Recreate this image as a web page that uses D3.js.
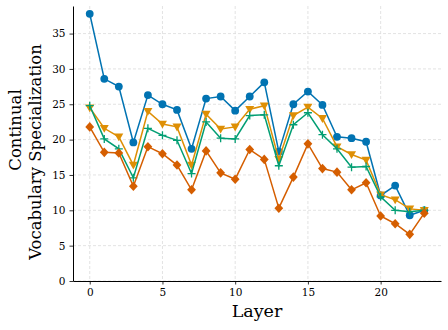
<!DOCTYPE html>
<html>
<head>
<meta charset="utf-8">
<script src="https://cdn.jsdelivr.net/npm/d3@7"></script>
<style>
  body { margin: 0; background: #fff; }
  text { font-family: "DejaVu Serif", serif; }
</style>
</head>
<body>
<div id="chart"></div>
<script>
// values, one per layer 0..23
var layers = d3.range(24)
var blue   = [37.8, 28.6, 27.5, 19.6, 26.3, 25.0, 24.2, 18.7, 25.8, 26.1, 24.1, 26.1, 28.1, 18.3, 25.0, 26.8, 24.9, 20.4, 20.2, 19.7, 12.1, 13.5, 9.3, 10.0]
var gold   = [24.5, 21.6, 20.4, 16.4, 24.0, 22.2, 21.8, 16.4, 23.6, 21.5, 21.8, 24.3, 24.8, 17.2, 23.4, 24.6, 23.0, 19.0, 17.9, 17.1, 12.2, 11.5, 10.2, 10.0]
var green  = [24.8, 20.1, 18.7, 14.6, 21.6, 20.6, 19.9, 15.2, 22.5, 20.2, 20.1, 23.4, 23.5, 16.3, 22.1, 23.8, 20.7, 18.7, 16.1, 16.2, 11.9, 10.0, 9.8, 10.0]
var rust   = [21.8, 18.2, 18.1, 13.4, 19.0, 18.0, 16.4, 12.9, 18.4, 15.3, 14.4, 18.6, 17.2, 10.3, 14.7, 19.4, 15.9, 15.4, 12.9, 13.9, 9.2, 8.1, 6.6, 9.6]
var xTicks = [0, 5, 10, 15, 20]
var yTicks = [0, 5, 10, 15, 20, 25, 30, 35]

var series = [
  {vals: blue,  color: "#0173b2", marker: "circle"},
  {vals: gold,  color: "#de8f05", marker: "tri"},
  {vals: green, color: "#029e73", marker: "plus"},
  {vals: rust,  color: "#d55e00", marker: "diamond"}
]

var W = 448, H = 330
var margin = {top: 6, right: 7, bottom: 49, left: 73}
var width = W - margin.left - margin.right
var height = H - margin.top - margin.bottom

var svg = d3.select("#chart").append("svg")
            .attr("width", W).attr("height", H)
var g = svg.append("g").attr("transform", "translate(" + margin.left + "," + margin.top + ")")

var x = d3.scaleLinear().domain([-1.15, 24.15]).range([0, width])
var y = d3.scaleLinear().domain([0, 38.9]).range([height, 0])

// grid
g.append("g").selectAll("line").data(xTicks).enter().append("line")
 .attr("x1", d => x(d)).attr("x2", d => x(d)).attr("y1", 0).attr("y2", height)
 .attr("stroke", "#dcdcdc").attr("stroke-width", 0.8).attr("stroke-dasharray", "3,2")
g.append("g").selectAll("line").data(yTicks).enter().append("line")
 .attr("x1", 0).attr("x2", width).attr("y1", d => y(d)).attr("y2", d => y(d))
 .attr("stroke", "#dcdcdc").attr("stroke-width", 0.8).attr("stroke-dasharray", "3,2")

// axes
var xa = g.append("g").attr("transform", "translate(0," + height + ")")
          .call(d3.axisBottom(x).tickValues(xTicks).tickSize(3.5).tickPadding(4).tickSizeOuter(0))
var ya = g.append("g")
          .call(d3.axisLeft(y).tickValues(yTicks).tickSize(3.5).tickPadding(4).tickSizeOuter(0))
;[xa, ya].forEach(function(a) {
  a.select(".domain").attr("stroke", "#000").attr("stroke-width", 1)
  a.selectAll(".tick line").attr("stroke", "#000").attr("stroke-width", 0.8)
  a.selectAll("text").attr("font-size", 10.5).attr("fill", "#000")
   .style("font-family", "DejaVu Serif, serif")
})

var line = d3.line().x((d, i) => x(layers[i])).y(d => y(d))

series.forEach(function(s) {
  var sg = g.append("g")
  sg.append("path").datum(s.vals).attr("d", line)
    .attr("fill", "none").attr("stroke", s.color).attr("stroke-width", 1.5)
  var pts = sg.selectAll(".pt").data(s.vals).enter()
  if (s.marker === "circle") {
    pts.append("circle").attr("cx", (d, i) => x(layers[i])).attr("cy", d => y(d))
       .attr("r", 3.9).attr("fill", s.color)
  } else if (s.marker === "tri") {
    pts.append("path").attr("transform", (d, i) => "translate(" + x(layers[i]) + "," + y(d) + ")")
       .attr("d", "M-4.5,-3.3L4.5,-3.3L0,4.5Z").attr("fill", s.color)
  } else if (s.marker === "plus") {
    pts.append("path").attr("transform", (d, i) => "translate(" + x(layers[i]) + "," + y(d) + ")")
       .attr("d", "M-4,0L4,0M0,-4L0,4").attr("stroke", s.color).attr("stroke-width", 1.3)
  } else {
    pts.append("path").attr("transform", (d, i) => "translate(" + x(layers[i]) + "," + y(d) + ")")
       .attr("d", "M0,-4.8L4.4,0L0,4.8L-4.4,0Z").attr("fill", s.color)
  }
})

// labels
svg.append("text").attr("x", margin.left + x(11.5)).attr("y", 317)
   .attr("text-anchor", "middle").attr("font-size", 17.5).text("Layer")
svg.append("text").attr("transform", "translate(21,130) rotate(-90)")
   .attr("text-anchor", "middle").attr("font-size", 16.5).text("Continual")
svg.append("text").attr("transform", "translate(41,152) rotate(-90)")
   .attr("text-anchor", "middle").attr("font-size", 16.5).text("Vocabulary Specialization")
</script>
</body>
</html>
